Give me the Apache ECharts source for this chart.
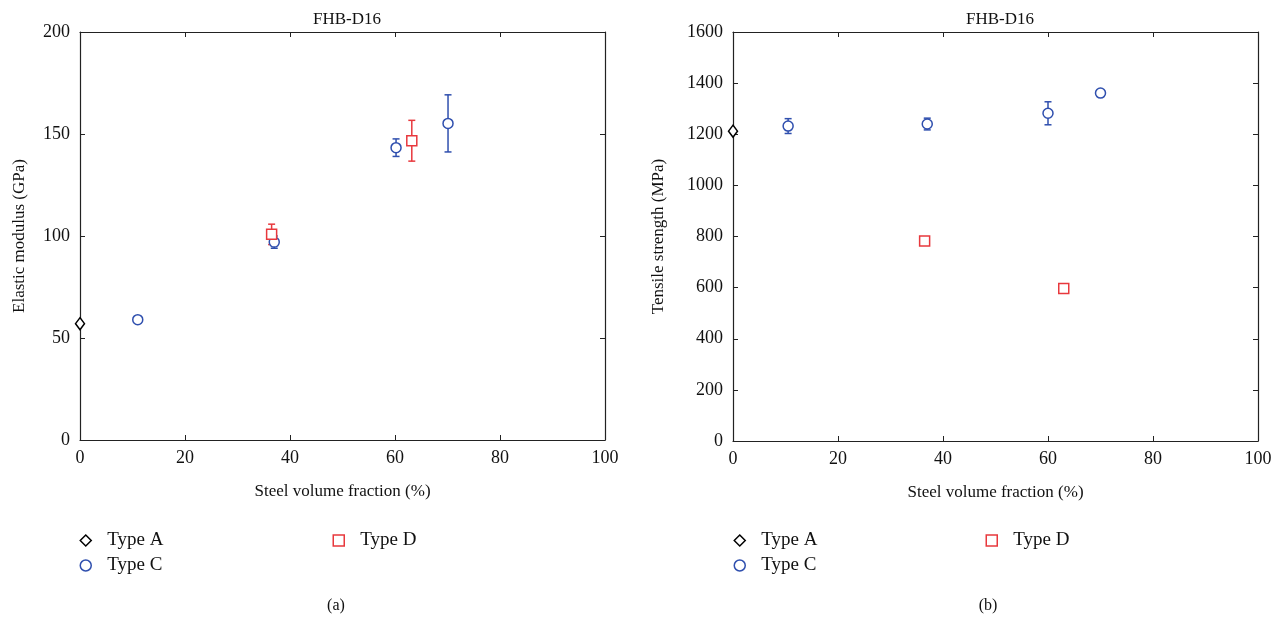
<!DOCTYPE html>
<html><head><meta charset="utf-8">
<script src="https://cdn.jsdelivr.net/npm/echarts@6/dist/echarts.min.js"></script>
<style>html,body{margin:0;padding:0;background:#fff}#c{width:1282px;height:620px}</style>
</head><body><div id="c"></div>
<script>
// ---- Data: panel (a) Elastic modulus ----
const aTypeA_x = [0];
const aTypeA_y = [57];
const aTypeC_x = [11, 37, 60.2, 70.1];
const aTypeC_y = [59, 97, 143.3, 155.2];
const aTypeC_err = [0, 3, 4.3, 14];
const aTypeD_x = [36.5, 63.2];
const aTypeD_y = [100.8, 146.7];
const aTypeD_err = [5, 10];
// ---- Data: panel (b) Tensile strength ----
const bTypeA_x = [0];
const bTypeA_y = [1212];
const bTypeC_x = [10.5, 37, 60, 70];
const bTypeC_y = [1232, 1240, 1282, 1361];
const bTypeC_err = [29, 23, 45, 0];
const bTypeD_x = [36.5, 63];
const bTypeD_y = [782, 597];
const bTypeD_err = [0, 0];

const xTicks = [0, 20, 40, 60, 80, 100];
const aYTicks = [0, 50, 100, 150, 200];
const bYTicks = [0, 200, 400, 600, 800, 1000, 1200, 1400, 1600];

const FONT = '"Liberation Serif", "DejaVu Serif", serif';
const BLUE = '#2f4fae';
const RED = '#e8383d';
const AX = '#222';

function pts(xs, ys) { return xs.map((x, i) => [x, ys[i]]); }
function errPts(xs, ys, es) { return xs.map((x, i) => [x, ys[i] - es[i], ys[i] + es[i]]).filter((d, i) => es[i] > 0); }

function errSeries(name, data, xi, yi, color) {
  return {
    type: 'custom', name: name, xAxisIndex: xi, yAxisIndex: yi, data: data, z: 1, silent: true,
    renderItem: function (params, api) {
      const x = api.value(0);
      const lo = api.coord([x, api.value(1)]);
      const hi = api.coord([x, api.value(2)]);
      const w = 3.5;
      const st = { stroke: color, lineWidth: 1.5 };
      return { type: 'group', children: [
        { type: 'line', shape: { x1: lo[0], y1: lo[1], x2: hi[0], y2: hi[1] }, style: st },
        { type: 'line', shape: { x1: lo[0] - w, y1: lo[1], x2: lo[0] + w, y2: lo[1] }, style: st },
        { type: 'line', shape: { x1: hi[0] - w, y1: hi[1], x2: hi[0] + w, y2: hi[1] }, style: st }
      ]};
    }
  };
}

function scat(name, data, xi, yi, symbol, size, color) {
  return {
    type: 'scatter', name: name, xAxisIndex: xi, yAxisIndex: yi, data: data, z: 3,
    symbol: symbol, symbolSize: size, clip: false,
    itemStyle: { color: '#fff', borderColor: color, borderWidth: 1.5, opacity: 1 }
  };
}

const fmt = v => String(v);

function xAxes(gi, ticks) {
  const base = { type: 'value', gridIndex: gi, min: ticks[0], max: ticks[ticks.length - 1], interval: ticks[1] - ticks[0],
    axisLine: { show: true, onZero: false, lineStyle: { color: AX, width: 1.2 } },
    axisTick: { show: true, inside: true, length: 5, lineStyle: { color: AX } },
    splitLine: { show: false } };
  return [
    Object.assign({}, base, { position: 'bottom',
      axisLabel: { color: '#111', fontFamily: FONT, fontSize: 18, margin: 9, formatter: fmt },
      name: 'Steel volume fraction (%)', nameLocation: 'middle', nameGap: 43,
      nameTextStyle: { color: '#111', fontFamily: FONT, fontSize: 17 } }),
    Object.assign({}, base, { position: 'top', axisLabel: { show: false } })
  ];
}
function yAxes(gi, ticks, name, gap) {
  const base = { type: 'value', gridIndex: gi, min: ticks[0], max: ticks[ticks.length - 1], interval: ticks[1] - ticks[0],
    axisLine: { show: true, onZero: false, lineStyle: { color: AX, width: 1.2 } },
    axisTick: { show: true, inside: true, length: 5, lineStyle: { color: AX } },
    splitLine: { show: false } };
  return [
    Object.assign({}, base, { position: 'left',
      axisLabel: { color: '#111', fontFamily: FONT, fontSize: 18, margin: 10, formatter: fmt },
      name: name, nameLocation: 'middle', nameGap: gap,
      nameTextStyle: { color: '#111', fontFamily: FONT, fontSize: 17 } }),
    Object.assign({}, base, { position: 'right', axisLabel: { show: false } })
  ];
}

function legendItem(name, left, top, icon, color) {
  return { left: left, top: top, padding: 0, itemWidth: 11, itemHeight: 11, selectedMode: false,
    data: [{ name: name, icon: icon, itemStyle: { color: '#fff', borderColor: color, borderWidth: 1.5 } }],
    textStyle: { color: '#111', fontFamily: FONT, fontSize: 19, padding: [0, 0, 0, 11] } };
}

const chart = echarts.init(document.getElementById('c'), null, { renderer: 'canvas' });
chart.setOption({
  animation: false,
  backgroundColor: '#fff',
  title: [
    { text: 'FHB-D16', left: 342, top: 6, textAlign: 'center', textStyle: { fontFamily: FONT, fontSize: 17, fontWeight: 'normal', color: '#111' } },
    { text: 'FHB-D16', left: 995, top: 6, textAlign: 'center', textStyle: { fontFamily: FONT, fontSize: 17, fontWeight: 'normal', color: '#111' } },
    { text: '(a)', left: 331, top: 593, textAlign: 'center', textStyle: { fontFamily: FONT, fontSize: 16, fontWeight: 'normal', color: '#111' } },
    { text: '(b)', left: 983, top: 593, textAlign: 'center', textStyle: { fontFamily: FONT, fontSize: 16, fontWeight: 'normal', color: '#111' } }
  ],
  grid: [
    { left: 80, right: 677, top: 32, bottom: 180 },
    { left: 733, right: 24, top: 32, bottom: 179 }
  ],
  xAxis: xAxes(0, xTicks).concat(xAxes(1, xTicks)),
  yAxis: yAxes(0, aYTicks, 'Elastic modulus (GPa)', 52).concat(yAxes(1, bYTicks, 'Tensile strength (MPa)', 66)),
  legend: [
    legendItem('Type A', 79.5, 531, 'diamond', '#000'),
    legendItem('Type D', 332.5, 531, 'rect', RED),
    legendItem('Type C', 79.5, 556, 'circle', BLUE),
    legendItem('Type A', 733.5, 531, 'diamond', '#000'),
    legendItem('Type D', 985.5, 531, 'rect', RED),
    legendItem('Type C', 733.5, 556, 'circle', BLUE)
  ],
  series: [
    errSeries('errCa', errPts(aTypeC_x, aTypeC_y, aTypeC_err), 0, 0, BLUE),
    errSeries('errDa', errPts(aTypeD_x, aTypeD_y, aTypeD_err), 0, 0, RED),
    scat('Type A', pts(aTypeA_x, aTypeA_y), 0, 0, 'diamond', [9, 12], '#000'),
    scat('Type C', pts(aTypeC_x, aTypeC_y), 0, 0, 'circle', 10, BLUE),
    scat('Type D', pts(aTypeD_x, aTypeD_y), 0, 0, 'rect', 10, RED),
    errSeries('errCb', errPts(bTypeC_x, bTypeC_y, bTypeC_err), 2, 2, BLUE),
    errSeries('errDb', errPts(bTypeD_x, bTypeD_y, bTypeD_err), 2, 2, RED),
    scat('Type A', pts(bTypeA_x, bTypeA_y), 2, 2, 'diamond', [9, 12], '#000'),
    scat('Type C', pts(bTypeC_x, bTypeC_y), 2, 2, 'circle', 10, BLUE),
    scat('Type D', pts(bTypeD_x, bTypeD_y), 2, 2, 'rect', 10, RED)
  ]
});
</script></body></html>
